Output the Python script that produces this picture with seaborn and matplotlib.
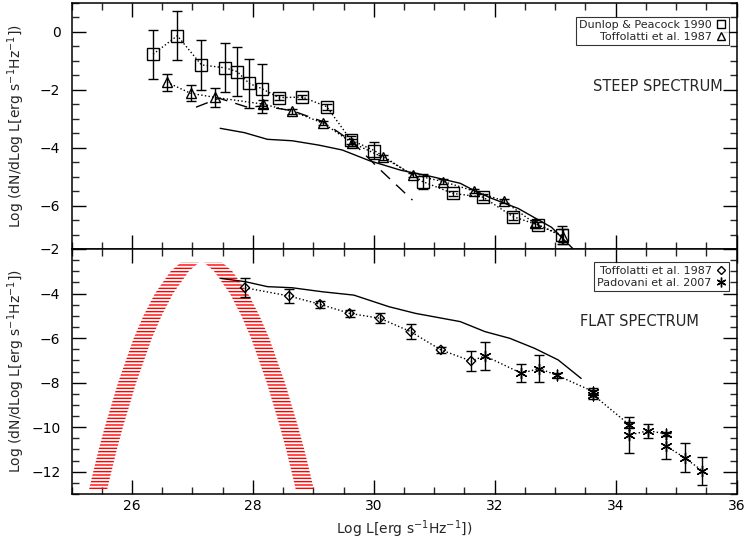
import numpy as np
import pandas as pd
import seaborn as sns
import matplotlib.pyplot as plt
from matplotlib.lines import Line2D

# ---- steep spectrum panel ----
dp_x = [26.35, 26.75, 27.15, 27.54, 27.74, 27.94, 28.15, 28.43, 28.82, 29.22, 29.62, 30.01,
        30.81, 31.31, 31.81, 32.30, 32.72, 33.11]
dp_y = [-0.77, -0.13, -1.14, -1.24, -1.37, -1.78, -1.96, -2.27, -2.25, -2.58, -3.73, -4.10,
        -5.17, -5.58, -5.71, -6.38, -6.67, -7.02]
dp_err = [0.85, 0.84, 0.85, 0.85, 0.85, 0.85, 0.85, 0.08, 0.08, 0.10, 0.15, 0.30,
          0.26, 0.10, 0.10, 0.12, 0.12, 0.30]

tof_steep_x = [26.58, 26.97, 27.37, 28.16, 28.65, 29.16, 29.64, 30.15, 30.65, 31.15, 31.65,
               32.15, 32.66, 33.13]
tof_steep_y = [-1.74, -2.12, -2.26, -2.49, -2.74, -3.15, -3.83, -4.33, -4.94, -5.17, -5.49,
               -5.84, -6.61, -7.07]
tof_steep_err = [0.30, 0.28, 0.32, 0.15, 0.08, 0.08, 0.12, 0.08, 0.08, 0.08, 0.08,
                 0.08, 0.12, 0.25]

dash_x = [27.06, 27.44, 27.91, 28.16, 28.65, 29.16, 29.64, 30.08, 30.64]
dash_y = [-2.60, -2.29, -2.60, -2.56, -2.72, -3.10, -3.79, -4.71, -5.81]

steep_model_x = [27.46, 27.86, 28.24, 28.65, 29.09, 29.48, 29.93, 30.45, 30.96, 31.43, 31.68,
                 31.95, 32.39, 32.94, 33.30]
steep_model_y = [-3.33, -3.48, -3.71, -3.76, -3.91, -4.08, -4.45, -4.78, -5.00, -5.23, -5.50,
                 -5.75, -6.10, -6.75, -7.50]

# ---- flat spectrum panel ----
tof_flat_x = [27.87, 28.60, 29.11, 29.60, 30.10, 30.61, 31.11, 31.61]
tof_flat_y = [-3.74, -4.11, -4.48, -4.89, -5.11, -5.71, -6.53, -7.03]
tof_flat_err = [0.43, 0.31, 0.15, 0.15, 0.22, 0.33, 0.15, 0.43]

pad_x = [31.84, 32.44, 32.74, 33.03, 33.63, 33.63, 34.23, 34.23, 34.54, 34.84, 34.84, 35.14, 35.43]
pad_y = [-6.80, -7.58, -7.37, -7.67, -8.40, -8.55, -9.90, -10.35, -10.16, -10.30, -10.85,
         -11.37, -11.95]
pad_err = [0.64, 0.40, 0.61, 0.10, 0.15, 0.20, 0.15, 0.82, 0.32, 0.10, 0.60, 0.64, 0.63]

flat_model_x = [27.47, 27.88, 28.24, 28.65, 29.15, 29.67, 30.25, 30.69, 31.43, 31.84, 32.25,
                32.66, 33.05, 33.43]
flat_model_y = [-3.32, -3.47, -3.69, -3.74, -3.92, -4.07, -4.59, -4.89, -5.26, -5.71, -6.01,
                -6.46, -6.98, -7.81]

# red hatched band (edges read at several heights)
band_y = [-2.6, -3.0, -4.0, -5.0, -6.0, -7.0, -8.0, -9.0, -10.0, -11.0, -12.0, -12.8]
band_left_out = [26.81, 26.64, 26.38, 26.19, 26.03, 25.90, 25.77, 25.66, 25.55, 25.45, 25.36, 25.29]
band_left_in = [27.11, 26.94, 26.68, 26.49, 26.33, 26.20, 26.07, 25.96, 25.85, 25.75, 25.66, 25.59]
band_right_in = [27.19, 27.36, 27.62, 27.81, 27.97, 28.10, 28.23, 28.34, 28.45, 28.55, 28.64, 28.71]
band_right_out = [27.49, 27.66, 27.92, 28.11, 28.27, 28.40, 28.53, 28.64, 28.75, 28.85, 28.94, 29.01]

ylab = r'Log (dN/dLog L[erg s$^{-1}$Hz$^{-1}$])'
xlab = r'Log L[erg s$^{-1}$Hz$^{-1}$])'

sns.set_style("ticks")
plt.rcParams['font.family'] = ['DejaVu Sans']
plt.rcParams['mathtext.default'] = 'regular'
plt.rcParams['hatch.linewidth'] = 1.0

fig = plt.figure(figsize=(7.45, 5.46), dpi=100)
ax1 = fig.add_axes([71.5 / 745, 1 - 249 / 546, 665 / 745, 246 / 546])
ax2 = fig.add_axes([71.5 / 745, 1 - 494 / 546, 665 / 745, 245 / 546], sharex=ax1)

star = (6, 2, 0)


def style_axis(ax):
    ax.tick_params(which='major', direction='in', length=10, width=1, top=True, right=True,
                   labelsize=10, colors='black')
    ax.tick_params(axis='y', which='major', pad=8)
    ax.tick_params(which='minor', direction='in', length=5, width=1, top=True, right=True)
    ax.xaxis.set_major_locator(plt.MultipleLocator(2))
    ax.xaxis.set_minor_locator(plt.MultipleLocator(0.5))
    ax.yaxis.set_major_locator(plt.MultipleLocator(2))
    ax.yaxis.set_minor_locator(plt.MultipleLocator(0.5))
    for s in ax.spines.values():
        s.set_linewidth(1.1)
        s.set_color('black')
    ax.set_ylabel(ylab, fontsize=10, va='center')
    ax.yaxis.set_label_coords(-0.083, 0.5)


# top panel
ax1.errorbar(dp_x, dp_y, yerr=dp_err, fmt='none', ecolor='black', elinewidth=1, capsize=3.5)
ax1.errorbar(tof_steep_x, tof_steep_y, yerr=tof_steep_err, fmt='none', ecolor='black',
             elinewidth=1, capsize=3.5)
sns.lineplot(x=dp_x, y=dp_y, ax=ax1, color='black', linestyle=':', linewidth=1,
             marker='s', markersize=8, markerfacecolor='none', markeredgecolor='black',
             markeredgewidth=1)
sns.lineplot(x=tof_steep_x, y=tof_steep_y, ax=ax1, color='black', linestyle=':', linewidth=1,
             marker='^', markersize=7, markerfacecolor='none', markeredgecolor='black',
             markeredgewidth=1)
sns.lineplot(x=dash_x, y=dash_y, ax=ax1, color='black', linewidth=1, dashes=False)
ax1.lines[-1].set_dashes([9, 6])
sns.lineplot(x=steep_model_x, y=steep_model_y, ax=ax1, color='black', linewidth=1)

ax1.set_xlim(25, 36)
ax1.set_ylim(-7.5, 1)
style_axis(ax1)
ax1.tick_params(labelbottom=False)
ax1.text(0.882, 0.66, 'STEEP SPECTRUM', transform=ax1.transAxes, ha='center', va='center',
         fontsize=10.5)
h1 = [Line2D([], [], linestyle='none', marker='s', markersize=6, markerfacecolor='none',
             markeredgecolor='black', label='Dunlop & Peacock 1990'),
      Line2D([], [], linestyle='none', marker='^', markersize=6, markerfacecolor='none',
             markeredgecolor='black', label='Toffolatti et al. 1987')]
leg1 = ax1.legend(handles=h1, loc='upper right', bbox_to_anchor=(0.988, 0.945), fontsize=8,
                  markerfirst=False, frameon=True, fancybox=False, handlelength=0.8,
                  handletextpad=0.4, borderpad=0.3, labelspacing=0.2, borderaxespad=0)
leg1.get_frame().set_edgecolor('black')
leg1.get_frame().set_linewidth(0.8)
leg1._legend_box.align = 'right'

# bottom panel
ax2.fill_betweenx(band_y, band_left_out, band_left_in, facecolor='none', edgecolor='red',
                  hatch='-----', linewidth=0)
ax2.fill_betweenx(band_y, band_right_in, band_right_out, facecolor='none', edgecolor='red',
                  hatch='-----', linewidth=0)

ax2.errorbar(tof_flat_x, tof_flat_y, yerr=tof_flat_err, fmt='none', ecolor='black',
             elinewidth=1, capsize=3.5)
ax2.errorbar(pad_x, pad_y, yerr=pad_err, fmt='none', ecolor='black', elinewidth=1, capsize=3.5)
ax2.plot(tof_flat_x + pad_x, tof_flat_y + pad_y, color='black', linestyle=':', linewidth=1)
sns.scatterplot(x=tof_flat_x, y=tof_flat_y, ax=ax2, marker='D', s=22, facecolor='none',
                edgecolor='black', linewidth=1, zorder=3)
sns.scatterplot(x=pad_x, y=pad_y, ax=ax2, marker=star, s=60, color='black', linewidth=1,
                zorder=3)
sns.lineplot(x=flat_model_x, y=flat_model_y, ax=ax2, color='black', linewidth=1)

ax2.set_ylim(-13, -2)
style_axis(ax2)
ax2.set_xlabel(xlab, fontsize=10, labelpad=4)
ax2.text(0.854, 0.705, 'FLAT SPECTRUM', transform=ax2.transAxes, ha='center', va='center',
         fontsize=10.5)
h2 = [Line2D([], [], linestyle='none', marker='D', markersize=4, markerfacecolor='none',
             markeredgecolor='black', label='Toffolatti et al. 1987'),
      Line2D([], [], linestyle='none', marker=star, markersize=7, color='black',
             label='Padovani et al. 2007')]
leg2 = ax2.legend(handles=h2, loc='upper right', bbox_to_anchor=(0.988, 0.945), fontsize=8,
                  markerfirst=False, frameon=True, fancybox=False, handlelength=0.8,
                  handletextpad=0.4, borderpad=0.3, labelspacing=0.2, borderaxespad=0)
leg2.get_frame().set_edgecolor('black')
leg2.get_frame().set_linewidth(0.8)
leg2._legend_box.align = 'right'

fig.savefig('out.png', dpi=100)
